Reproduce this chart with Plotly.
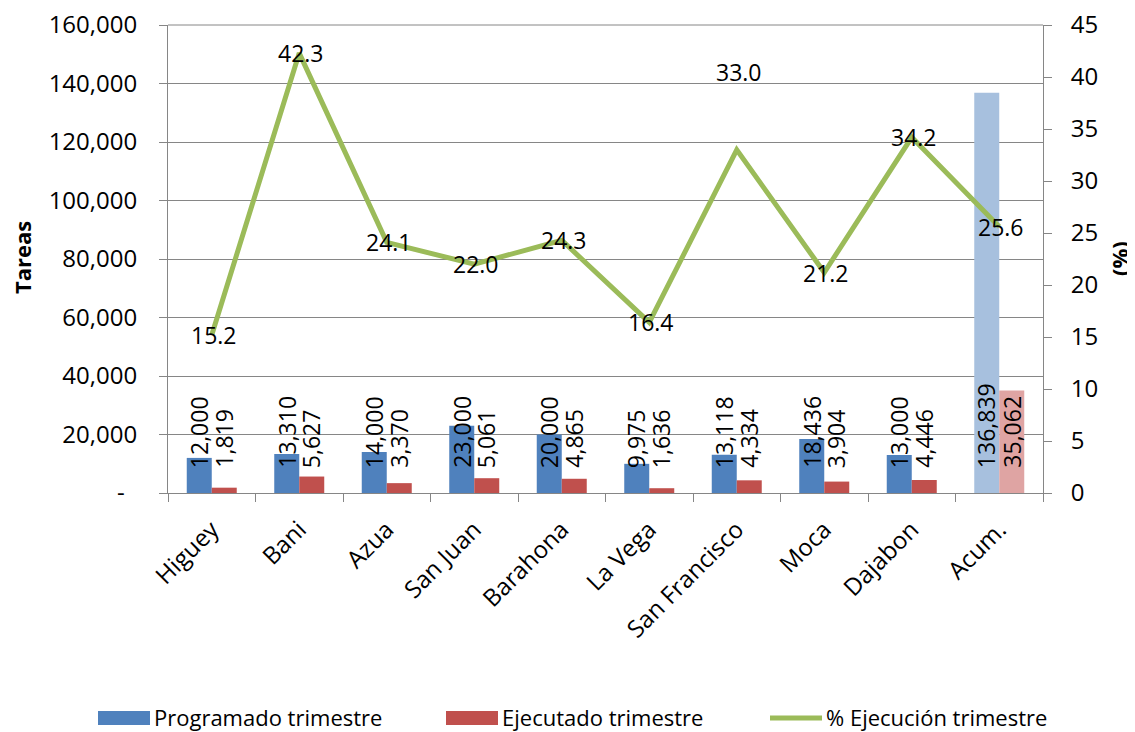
import plotly.graph_objects as go

categories = ["Higuey", "Bani", "Azua", "San Juan", "Barahona", "La Vega",
              "San Francisco", "Moca", "Dajabon", "Acum."]
programado = [12000, 13310, 14000, 23000, 20000, 9975, 13118, 18436, 13000, 136839]
ejecutado = [1819, 5627, 3370, 5061, 4865, 1636, 4334, 3904, 4446, 35062]
pct = [15.2, 42.3, 24.1, 22.0, 24.3, 16.4, 33.0, 21.2, 34.2, 25.6]
pct_label_shift = [0, 0, 0, 0, 0, 0, 78, 0, 0, 0]

y_tickvals = [0, 20000, 40000, 60000, 80000, 100000, 120000, 140000, 160000]
y_ticktext = ["-\u00a0\u00a0", "20,000", "40,000", "60,000", "80,000",
              "100,000", "120,000", "140,000", "160,000"]
y2_tickvals = [0, 5, 10, 15, 20, 25, 30, 35, 40, 45]

BLUE = "#4F81BD"
RED = "#C0504D"
BLUE_L = "#A7C0DE"
RED_L = "#DFA4A3"
GREEN = "#9BBB59"
GRID = "#868686"
FONT = "Open Sans"

OFF = 8  # page body margin
W, H = 1135 - OFF, 732 - OFF
L, T = 168 - OFF, 25 - OFF
R = W - (1043 - OFF)
B = H - (493 - OFF)
PW, PH = W - L - R, H - T - B


def px_x(px):
    return (px - OFF - L) / PW


def px_y(py):
    return (H - B - (py - OFF)) / PH


blue_colors = [BLUE] * (len(categories) - 1) + [BLUE_L]
red_colors = [RED] * (len(categories) - 1) + [RED_L]

fig = go.Figure()
fig.add_trace(go.Bar(x=categories, y=programado, name="Programado trimestre",
                     marker=dict(color=blue_colors, line=dict(width=0)),
                     showlegend=False))
fig.add_trace(go.Bar(x=categories, y=ejecutado, name="Ejecutado trimestre",
                     marker=dict(color=red_colors, line=dict(width=0)),
                     showlegend=False))
fig.add_trace(go.Scatter(x=categories, y=pct, name="% Ejecución trimestre",
                         mode="lines", line=dict(color=GREEN, width=5),
                         yaxis="y2", showlegend=False))

annotations = []
label_base = 7900
for c, p, e in zip(categories, programado, ejecutado):
    annotations.append(dict(x=c, y=label_base, xref="x", yref="y",
                            text=f"{p:,}", textangle=-90, showarrow=False,
                            xanchor="center", yanchor="bottom", xshift=-12.5,
                            font=dict(family=FONT, size=23, color="black")))
    annotations.append(dict(x=c, y=label_base, xref="x", yref="y",
                            text=f"{e:,}", textangle=-90, showarrow=False,
                            xanchor="center", yanchor="bottom", xshift=12.5,
                            font=dict(family=FONT, size=23, color="black")))
for c, v, s in zip(categories, pct, pct_label_shift):
    annotations.append(dict(x=c, y=v, xref="x", yref="y2", text=f"{v:.1f}",
                            showarrow=False, xanchor="center", yanchor="middle",
                            yshift=s, xshift=2,
                            font=dict(family=FONT, size=23, color="black")))

# axis titles
annotations.append(dict(x=px_x(22), y=px_y(258), xref="paper", yref="paper",
                        text="<b>Tareas</b>", textangle=-90, showarrow=False,
                        xanchor="center", yanchor="middle",
                        font=dict(family=FONT, size=22, color="black")))
annotations.append(dict(x=px_x(1119), y=px_y(259), xref="paper", yref="paper",
                        text="<b>(%)</b>", textangle=-90, showarrow=False,
                        xanchor="center", yanchor="middle",
                        font=dict(family=FONT, size=22, color="black")))

# legend
shapes = []
leg_y = 718
legend_items = [
    (98, "rect", BLUE, "Programado trimestre"),
    (446, "rect", RED, "Ejecutado trimestre"),
    (770, "line", GREEN, "% Ejecución trimestre"),
]
for x0, kind, col, label in legend_items:
    if kind == "rect":
        shapes.append(dict(type="rect", xref="paper", yref="paper",
                           x0=px_x(x0), x1=px_x(x0 + 52),
                           y0=px_y(leg_y + 7), y1=px_y(leg_y - 7),
                           fillcolor=col, line=dict(width=0)))
    else:
        shapes.append(dict(type="line", xref="paper", yref="paper",
                           x0=px_x(x0), x1=px_x(x0 + 52),
                           y0=px_y(leg_y), y1=px_y(leg_y),
                           line=dict(color=col, width=5)))
    annotations.append(dict(x=px_x(x0 + 54), y=px_y(leg_y - 1), xref="paper",
                            yref="paper", text=label, showarrow=False,
                            xanchor="left", yanchor="middle",
                            font=dict(family=FONT, size=22, color="black")))

# top border gridline of plot area (160,000 level)
shapes.append(dict(type="line", xref="paper", yref="paper", x0=0, x1=1,
                   y0=1, y1=1, line=dict(color=GRID, width=1), layer="below"))

fig.update_layout(
    width=W, height=H,
    margin=dict(l=L, r=R, t=T, b=B, pad=0, autoexpand=False),
    paper_bgcolor="white", plot_bgcolor="white",
    barmode="group", bargap=0.4286, bargroupgap=0,
    font=dict(family=FONT, size=22, color="black"),
    xaxis=dict(type="category", showline=True, linecolor=GRID, linewidth=1,
               ticks="outside", tickson="boundaries", ticklen=8,
               tickcolor=GRID, tickangle=-45, showgrid=False,
               ticklabelstandoff=12, automargin=False,
               tickfont=dict(family=FONT, size=24, color="black"),
               mirror=False),
    yaxis=dict(range=[0, 160000], tickvals=y_tickvals, ticktext=y_ticktext,
               showline=True, linecolor=GRID, linewidth=1,
               ticks="outside", ticklen=8, tickcolor=GRID,
               showgrid=True, gridcolor=GRID, gridwidth=1,
               ticklabelstandoff=17, zeroline=False, automargin=False,
               ticklabeloverflow="allow",
               tickfont=dict(family=FONT, size=24, color="black")),
    yaxis2=dict(range=[0, 45], tickvals=y2_tickvals, overlaying="y",
                side="right", showline=True, linecolor=GRID, linewidth=1,
                ticks="outside", ticklen=8, tickcolor=GRID, showgrid=False,
                ticklabelstandoff=14, zeroline=False, automargin=False,
                ticklabeloverflow="allow",
                tickfont=dict(family=FONT, size=24, color="black")),
    annotations=annotations,
    shapes=shapes,
)

fig.write_html("out.html")
